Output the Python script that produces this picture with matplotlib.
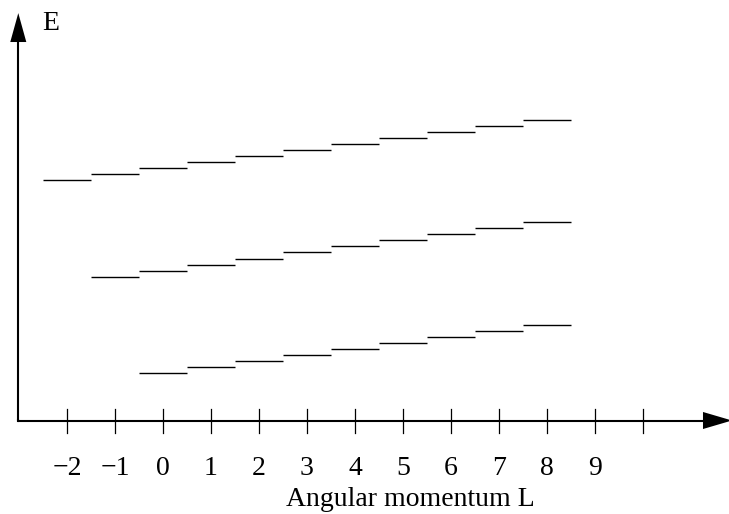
import matplotlib
matplotlib.use("Agg")
import matplotlib.pyplot as plt
import numpy as np

# ---- data ----
L_top = [-2, -1, 0, 1, 2, 3, 4, 5, 6, 7, 8]
E_top = [40, 41, 42, 43, 44, 45, 46, 47, 48, 49, 50]
L_mid = [-1, 0, 1, 2, 3, 4, 5, 6, 7, 8]
E_mid = [24, 25, 26, 27, 28, 29, 30, 31, 32, 33]
L_bot = [0, 1, 2, 3, 4, 5, 6, 7, 8]
E_bot = [8, 9, 10, 11, 12, 13, 14, 15, 16]
tick_positions = [-2, -1, 0, 1, 2, 3, 4, 5, 6, 7, 8, 9, 10]
tick_labels = ["\u22122", "\u22121", "0", "1", "2", "3", "4", "5", "6", "7", "8", "9", ""]
x_title = "Angular momentum L"
y_title = "E"

plt.rcParams['font.family'] = ['Liberation Serif', 'DejaVu Serif']

fig = plt.figure(figsize=(7.29, 5.14), dpi=100)
ax = fig.add_axes([0, 0, 1, 1])
ax.set_xlim(-3.396, 11.792)
ax.set_ylim(-15.583, 70.083)
ax.axis('off')

# energy levels
for Ls, Es in [(L_top, E_top), (L_mid, E_mid), (L_bot, E_bot)]:
    Ls = np.asarray(Ls, float)
    ax.hlines(Es, Ls - 0.5, Ls + 0.5, color='black', lw=1.0)

# axes
x0 = -3.015
ax.plot([x0, 11.3], [0, 0], color='black', lw=1.5, solid_capstyle='butt')
ax.plot([x0, x0], [0, 63.5], color='black', lw=1.5, solid_capstyle='butt')
ax.plot([x0, x0], [-0.12, 0.12], color='black', lw=1.5)
# arrow heads
ax.fill([11.25, 11.854, 11.25], [1.42, 0, -1.42], color='black', lw=0)
ax.fill([x0 - 0.167, x0, x0 + 0.167], [63.08, 67.9, 63.08], color='black', lw=0)

# ticks and labels
for p, lab in zip(tick_positions, tick_labels):
    ax.plot([p, p], [-2, 2], color='black', lw=0.9)
    if lab:
        ax.text(p, -9.08, lab, ha='center', va='baseline', fontsize=20)

ax.text(5.146, -14.25, x_title, ha='center', va='baseline', fontsize=20)
ax.text(-2.52, 65.08, y_title, ha='left', va='baseline', fontsize=20)

fig.savefig("out.png", dpi=100)
